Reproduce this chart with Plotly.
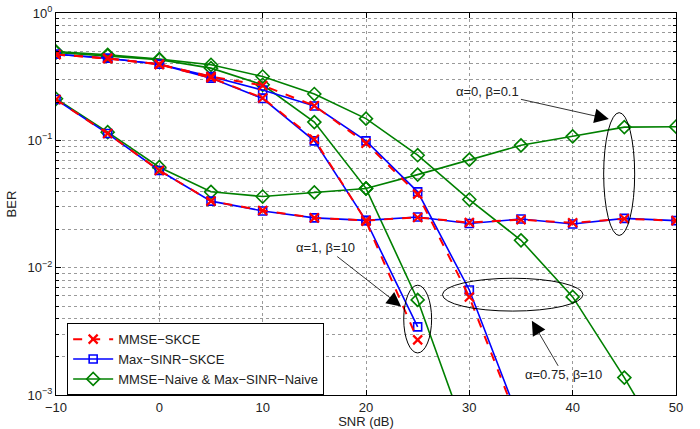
import math
import plotly.graph_objects as go

snr = [-10, -5, 0, 5, 10, 15, 20, 25, 30, 35, 40, 45, 50]

# Group alpha=0, beta=0.1
mmse_a = [0.209, 0.113, 0.058, 0.0333, 0.0281, 0.0246, 0.0235, 0.0248, 0.0226, 0.0238, 0.0225, 0.0242, 0.0234]
maxs_a = [0.209, 0.113, 0.058, 0.0333, 0.0279, 0.0246, 0.0235, 0.0250, 0.0222, 0.0241, 0.0220, 0.0244, 0.0234]
naive_a = [0.212, 0.116, 0.0615, 0.0394, 0.0362, 0.0390, 0.0418, 0.0538, 0.0706, 0.0914, 0.1075, 0.127, 0.128]

# Group alpha=1, beta=10
snr_b = [-10, -5, 0, 5, 10, 15, 20, 25]
mmse_b = [0.472, 0.440, 0.395, 0.310, 0.215, 0.102, 0.0232, 0.00271]
maxs_b = [0.474, 0.441, 0.396, 0.308, 0.213, 0.099, 0.0234, 0.00343]
snr_nb = [-10, -5, 0, 5, 10, 15, 20, 25, 30]
naive_b = [0.490, 0.462, 0.430, 0.369, 0.273, 0.139, 0.042, 0.00558, 0.000413]

# Group alpha=0.75, beta=10
snr_c = [-10, -5, 0, 5, 10, 15, 20, 25, 30, 35]
mmse_c = [0.472, 0.440, 0.395, 0.317, 0.270, 0.187, 0.095, 0.0378, 0.00589, 0.000537]
maxs_c = [0.474, 0.441, 0.396, 0.317, 0.248, 0.186, 0.099, 0.0394, 0.00668, 0.000585]
naive_c = [0.498, 0.469, 0.434, 0.392, 0.317, 0.231, 0.148, 0.0764, 0.0343, 0.0164, 0.00589, 0.00137, 0.00028]

names = ["MMSE\u2212SKCE", "Max\u2212SINR\u2212SKCE", "MMSE\u2212Naive & Max\u2212SINR\u2212Naive"]
x_ticks = [-10, 0, 10, 20, 30, 40, 50]
x_ticklabels = ["\u221210", "0", "10", "20", "30", "40", "50"]
y_ticks = [1e-3, 1e-2, 1e-1, 1]
y_ticklabels = ["10<sup>\u22123</sup>", "10<sup>\u22122</sup>", "10<sup>\u22121</sup>", "10<sup>0</sup>"]

RED, BLUE, GREEN = "#ff0000", "#0000ff", "#008000"
FONT = "Liberation Sans, Arial, Helvetica"

fig = go.Figure()

def add(x, y, kind, show):
    if kind == 0:
        line = dict(color=RED, width=2, dash="dash")
        marker = dict(symbol="x-thin-open", size=9, line=dict(color=RED, width=2.2), color=RED)
        rank = 1
    elif kind == 1:
        line = dict(color=BLUE, width=1.6)
        marker = dict(symbol="square-open", size=8, line=dict(color=BLUE, width=1.6), color=BLUE)
        rank = 2
    else:
        line = dict(color=GREEN, width=1.6)
        marker = dict(symbol="diamond-open", size=10, line=dict(color=GREEN, width=1.6), color=GREEN)
        rank = 3
    fig.add_trace(go.Scatter(x=x, y=y, mode="lines+markers", name=names[kind],
                             line=line, marker=marker, showlegend=show,
                             legendgroup=str(kind), legendrank=rank))

# draw order: green, blue, red
add(snr, naive_a, 2, True)
add(snr_nb, naive_b, 2, False)
add(snr, naive_c, 2, False)
add(snr, maxs_a, 1, True)
add(snr_b, maxs_b, 1, False)
add(snr_c, maxs_c, 1, False)
add(snr, mmse_a, 0, True)
add(snr_b, mmse_b, 0, False)
add(snr_c, mmse_c, 0, False)

# ellipses (data coords)
ell = [
    (43.0, 46.0, 0.0179, 0.165),
    (23.65, 26.35, 0.00214, 0.00728),
    (27.4, 41.0, 0.00456, 0.00826),
]
for x0, x1, y0, y1 in ell:
    fig.add_shape(type="circle", xref="x", yref="y", x0=x0, x1=x1, y0=y0, y1=y1,
                  line=dict(color="black", width=1))

ann = [
    # text, arrow head (x, y), text centre (x, y)
    ("\u03b1=0, \u03b2=0.1", (43.5, 0.147), (31.8, 0.24)),
    ("\u03b1=1, \u03b2=10", (23.4, 0.00496), (16.1, 0.0144)),
    ("\u03b1=0.75, \u03b2=10", (36.05, 0.00383), (39.1, 0.00144)),
]
for text, head, tail in ann:
    fig.add_annotation(x=head[0], y=math.log10(head[1]), ax=tail[0], ay=math.log10(tail[1]),
                       axref="x", ayref="y", xref="x", yref="y", text=text,
                       showarrow=True, arrowhead=2, arrowsize=3.6, arrowwidth=0.8,
                       arrowcolor="black", standoff=0,
                       font=dict(family=FONT, size=13, color="#222"),
                       bgcolor="rgba(0,0,0,0)")

fig.update_layout(
    width=700, height=429,
    margin=dict(l=56, r=24, t=13, b=34),
    paper_bgcolor="white", plot_bgcolor="white",
    font=dict(family=FONT, size=13, color="#222"),
    legend=dict(x=0.018, y=0.188, xanchor="left", yanchor="top",
                bordercolor="black", borderwidth=1, bgcolor="white",
                font=dict(size=13), tracegroupgap=0, itemwidth=40),
    showlegend=True,
)
fig.update_xaxes(range=[-10, 50], tickvals=x_ticks, ticktext=x_ticklabels,
                 automargin=False,
                 showline=True, linecolor="black", linewidth=1, mirror="ticks",
                 ticks="inside", ticklen=5, tickcolor="black",
                 showgrid=True, gridcolor="#9a9a9a", griddash="dot", gridwidth=1,
                 zeroline=False, title=dict(text="SNR (dB)", standoff=2, font=dict(size=13)),
                 tickfont=dict(size=13))
fig.update_yaxes(type="log", range=[-3, 0], tickvals=y_ticks, ticktext=y_ticklabels,
                 automargin=False,
                 showline=True, linecolor="black", linewidth=1, mirror="ticks",
                 ticks="inside", ticklen=5, tickcolor="black",
                 showgrid=True, gridcolor="#9a9a9a", griddash="dot", gridwidth=1,
                 minor=dict(showgrid=True, gridcolor="#9a9a9a", griddash="dot", gridwidth=1,
                            ticks="inside", ticklen=3, tickcolor="black", dtick="D1"),
                 zeroline=False, title=dict(text="BER", standoff=8, font=dict(size=13)),
                 tickfont=dict(size=13))

fig.write_html("out.html")
